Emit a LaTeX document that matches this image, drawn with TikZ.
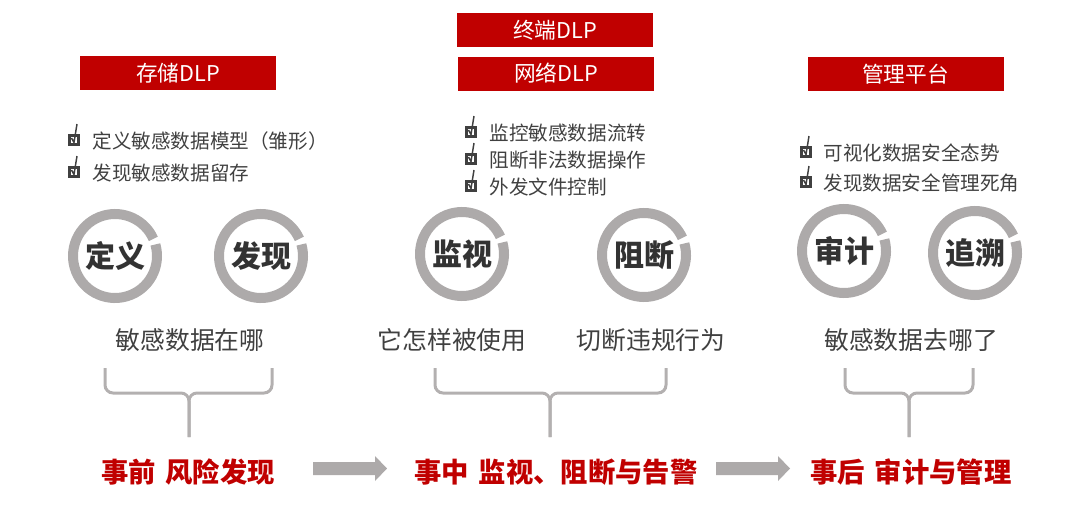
\documentclass[tikz,border=0pt]{standalone}
\usepackage{fontspec}
\setmainfont{Noto Sans CJK SC}
\definecolor{dlpred}{HTML}{C00000}
\definecolor{ringgray}{HTML}{ADAAAA}
\definecolor{bracegray}{HTML}{B3B0B0}
\definecolor{txtgray}{HTML}{404040}
\definecolor{darktxt}{HTML}{333333}

\tikzset{every picture/.style={line width=0.75pt}}
\tikzset{
  redbox/.style={fill=dlpred,text=white,minimum width=147pt,minimum height=25.5pt,inner sep=0pt,font=\fontsize{16.3}{16.3}\selectfont},
  item/.style={anchor=west,inner sep=0pt,text=txtgray,font=\fontsize{14.7}{14.7}\selectfont},
  ringtxt/.style={inner sep=0pt,text=darktxt,font=\fontsize{22.5}{22.5}\selectfont\bfseries},
  ringline/.style={draw=ringgray,line width=7.5pt},
  question/.style={inner sep=0pt,text=txtgray,font=\fontsize{18.6}{18.6}\selectfont},
  phase/.style={inner sep=0pt,text=dlpred,font=\fontsize{20.5}{20.5}\selectfont\bfseries},
  brace/.style={draw=bracegray,line width=2.25pt,rounded corners=6pt},
  chk/.pic={
    \draw[txtgray,line width=1.8pt] (-4.4,-4.4) rectangle (4.4,4.4);
    \draw[txtgray,line width=1.1pt] (-2.5,2) -- (0,-2.5) -- (3,16);
  }
}

\begin{document}
\begin{tikzpicture}[x=0.75pt,y=0.75pt,yscale=-1,xscale=1]
    \useasboundingbox (0,0) rectangle (1091,508);
    %Red headers
    \node[redbox] (cunchu) at (178,73) {存储DLP};
    \node[redbox] (zhongduan) at (555,30) {终端DLP};
    \node[redbox] (wangluo) at (556,73.5) {网络DLP};
    \node[redbox] (guanli) at (905.5,74) {管理平台};
    %Check lists
    \pic at (74,140) {chk};
    \node[item] (itemA) at (92,141) {定义敏感数据模型（雏形）};
    \pic at (74,172) {chk};
    \node[item] (itemB) at (92,173) {发现敏感数据留存};
    \pic at (471,132) {chk};
    \node[item] (itemC) at (489,133) {监控敏感数据流转};
    \pic at (471,159) {chk};
    \node[item] (itemD) at (489,160) {阻断非法数据操作};
    \pic at (471,186) {chk};
    \node[item] (itemE) at (489,187) {外发文件控制};
    \pic at (806,152) {chk};
    \node[item] (itemF) at (823,153) {可视化数据安全态势};
    \pic at (806,182) {chk};
    \node[item] (itemG) at (823,183) {发现数据安全管理死角};
    %Rings
    \foreach \nm/\cx/\cy/\tx in {dingyi/115/256/定义, faxian/261/256/发现, jianshi/462/254/监视, zuduan/644/255/阻断, shenji/844/251/审计, zhuisu/975/253/追溯}{
      \node[ringtxt] (\nm) at (\cx,\cy) {\tx};
      \draw[ringline] (\nm.center) ++(-16:42) arc[start angle=-16,end angle=336,radius=42];
    }
    %Questions
    \node[question] (qA) at (190,340) {敏感数据在哪};
    \node[question] (qB) at (452,340) {它怎样被使用};
    \node[question] (qC) at (651,340) {切断违规行为};
    \node[question] (qD) at (911,340) {敏感数据去哪了};
    %Braces
    \draw[brace] (105,368) -- (105,393) -- (189,393) -- (189,437);
    \draw[brace] (272,368) -- (272,393) -- (189,393) -- (189,437);
    \draw[brace] (435,368) -- (435,393) -- (550,393) -- (550,437);
    \draw[brace] (666,368) -- (666,393) -- (550,393) -- (550,437);
    \draw[brace] (845,368) -- (845,393) -- (909,393) -- (909,437);
    \draw[brace] (973,368) -- (973,393) -- (909,393) -- (909,437);
    %Phases
    \node[phase] (before) at (188,472) {事前\hspace{0.35em}风险发现};
    \node[phase] (during) at (556,472) {事中\hspace{0.35em}监视、阻断与告警};
    \node[phase] (after) at (911,472) {事后\hspace{0.35em}审计与管理};
    %Block arrows
    \fill[ringgray] (313,462) -- (375,462) -- (375,456) -- (387,468.5) -- (375,481) -- (375,475) -- (313,475) -- cycle;
    \fill[ringgray] (716,462) -- (778,462) -- (778,456) -- (790,468.5) -- (778,481) -- (778,475) -- (716,475) -- cycle;
\end{tikzpicture}
\end{document}
